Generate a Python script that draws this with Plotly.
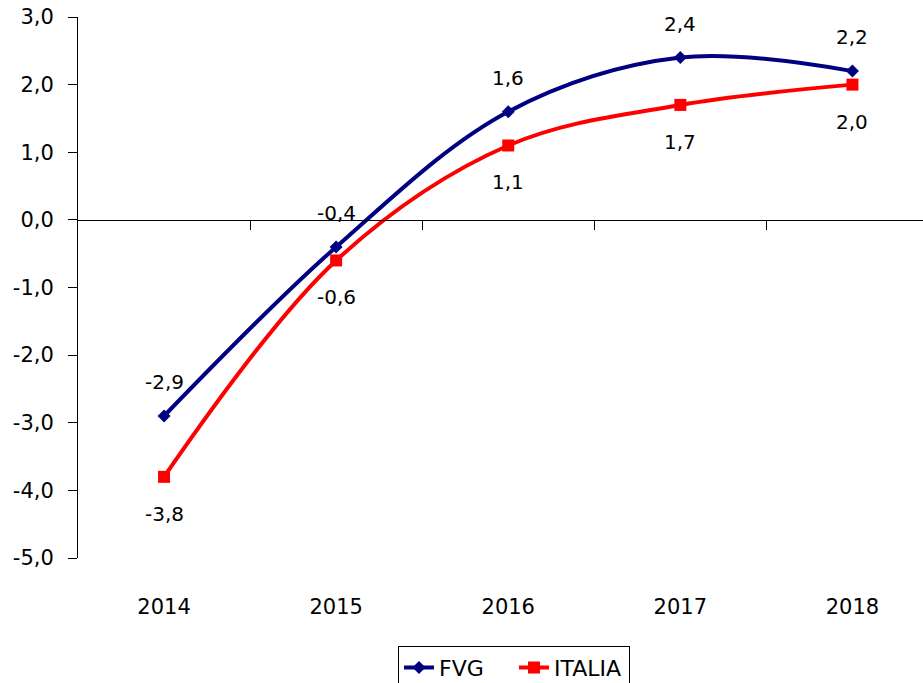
import plotly.graph_objects as go

years = ["2014", "2015", "2016", "2017", "2018"]
fvg = [-2.9, -0.4, 1.6, 2.4, 2.2]
italia = [-3.8, -0.6, 1.1, 1.7, 2.0]
y_ticks = [3, 2, 1, 0, -1, -2, -3, -4, -5]
y_tick_labels = ["3,0", "2,0", "1,0", "0,0", "-1,0", "-2,0", "-3,0", "-4,0", "-5,0"]
y_min, y_max = -5, 3
x_range = [-0.5, 4.41]

FONT = "DejaVu Sans"
fig = go.Figure()

fig.add_trace(go.Scatter(
    x=years, y=fvg, name="FVG", mode="lines+markers",
    line=dict(color="#000080", width=4, shape="spline", smoothing=1),
    marker=dict(symbol="diamond", size=10, color="#000080"),
))
fig.add_trace(go.Scatter(
    x=years, y=italia, name="ITALIA", mode="lines+markers",
    line=dict(color="#FF0000", width=4, shape="spline", smoothing=1),
    marker=dict(symbol="square", size=12, color="#FF0000"),
))
# invisible trace to host the zero-crossing category axis
fig.add_trace(go.Scatter(x=[0], y=[None], xaxis="x2", showlegend=False,
                         hoverinfo="skip", mode="markers"))

def fmt(v):
    return f"{v:.1f}".replace(".", ",")

ann = []
for i, v in enumerate(fvg):
    ann.append(dict(xref="x", yref="y", x=i, y=v, text=fmt(v), showarrow=False,
                    yshift=34, font=dict(family=FONT, size=20, color="black")))
for i, v in enumerate(italia):
    ann.append(dict(xref="x", yref="y", x=i, y=v, text=fmt(v), showarrow=False,
                    yshift=-37, font=dict(family=FONT, size=20, color="black")))

fig.update_layout(
    template="none",
    width=923, height=683,
    margin=dict(l=78, r=0, t=17, b=125, autoexpand=False),
    paper_bgcolor="white", plot_bgcolor="white",
    separators=",.",
    font=dict(family=FONT, size=20, color="black"),
    annotations=ann,
    showlegend=True,
    legend=dict(orientation="h", x=(514 - 78) / 845, xanchor="center",
                y=-0.162, yanchor="top", bordercolor="black", borderwidth=1,
                bgcolor="white", entrywidth=70,
                font=dict(family=FONT, size=22, color="black")),
    xaxis=dict(type="category", range=x_range, showline=False, showgrid=False,
               zeroline=False, ticks="", ticklabelstandoff=34, automargin=False,
               ticklabeloverflow="allow",
               tickfont=dict(family=FONT, size=21, color="black")),
    xaxis2=dict(overlaying="x", anchor="free",
                position=(0 - y_min) / (y_max - y_min),
                range=x_range, tickvals=[0.5, 1.5, 2.5, 3.5],
                showticklabels=False, ticks="outside", ticklen=9,
                tickcolor="black", showline=True, linecolor="black",
                linewidth=1, showgrid=False, zeroline=False, side="bottom",
                automargin=False),
    yaxis=dict(range=[y_min, y_max], tickvals=y_ticks, ticktext=y_tick_labels,
               showgrid=False, zeroline=False, showline=True, automargin=False,
               linecolor="black", linewidth=1, ticks="outside", ticklen=9,
               tickcolor="black", ticklabelstandoff=10,
               ticklabeloverflow="allow",
               tickfont=dict(family=FONT, size=21, color="black")),
)

fig.write_html("out.html",
               config={"displayModeBar": False},
               post_script="document.body.style.margin='0';"
                           "document.body.style.overflow='hidden';")
